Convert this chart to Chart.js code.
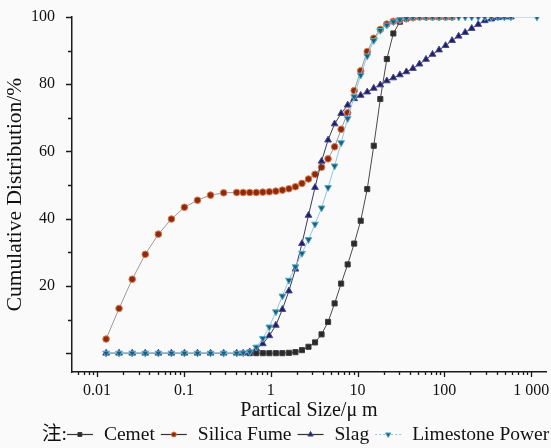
<!DOCTYPE html>
<html>
<head>
<meta charset="utf-8">
<script src="https://cdn.jsdelivr.net/npm/chart.js@4.4.1/dist/chart.umd.min.js"></script>
<style>
  html, body { margin: 0; padding: 0; background: #fafafa; }
  #psd { display: block; }
</style>
</head>
<body>
<canvas id="psd" width="551" height="448"></canvas>
<script>
// particle size grid (um) shared by the four powders
const sizes = [0.0127, 0.0179, 0.0254, 0.0359, 0.0508, 0.0718, 0.1014, 0.1435, 0.2028, 0.2871, 0.4055,
  0.482, 0.573, 0.682, 0.811, 0.964, 1.146, 1.363, 1.620, 1.927, 2.291,
  2.724, 3.239, 3.851, 4.579, 5.445, 6.474, 7.698, 9.154, 10.88, 12.94,
  15.39, 18.30, 21.76, 25.87, 30.76, 36.58, 43.49, 51.72, 61.50, 73.11,
  86.95, 103.4, 122.9, 146.2, 173.8, 206.7, 245.7, 292.2, 347.4, 413.0,
  491.2, 584.0, 694.4, 825.8, 982.0, 1167];

// cumulative distribution (%), null = no reading at that size
const cemet = [null, null, null, null, null, null, null, null, null, null, null, null,
  0, 0, 0, 0, 0, 0,
  0.1, 0.3, 0.9, 1.9, 3.2, 5.6, 9.3, 14.8, 20.7, 26.4, 32.6, 39.4, 48.8,
  61.7, 75.6, 87.5, 95.1, 98.6, 99.6, 100, 100, 100, 100, 100, 100, 100,
  null, null, null, null, null, null, null, null, null, null, null, null, null];

const silicaFume = [4.2, 13.3, 22.0, 29.4, 35.4, 39.9, 43.4, 45.5, 47.0, 47.7, 47.8,
  47.8, 47.8, 47.8, 47.9, 48.0, 48.2, 48.5, 48.9, 49.5, 50.5,
  51.8, 53.2, 55.3, 57.8, 61.4, 66.6, 71.5, 78.1, 84.0, 89.7, 93.7, 96.3, 97.9, 98.7, 99.1,
  99.5, 99.8, 100, 100, 100, 100, 100, 100,
  null, null, null, null, null, null, null, null, null, null, null, null, null];

const slag = [0, 0, 0, 0, 0, 0, 0, 0, 0, 0, 0, 0,
  0.4, 1.3, 2.8, 5.2, 8.3, 13.0, 18.5, 25.0, 32.6,
  41.0, 49.3, 57.1, 63.4, 68.2, 71.3, 73.8, 75.7, 76.7, 77.7,
  78.8, 79.8, 81.0, 81.9, 82.8, 83.7, 84.7, 86.0, 87.4, 88.9,
  90.2, 91.5, 93.0, 94.3, 95.4, 96.6, 97.8, 98.9, 99.4, 99.8,
  100, 100, null, null, null, null];

const limestone = [0, 0, 0, 0, 0, 0, 0, 0, 0, 0, 0,
  0.1, 0.4, 1.8, 4.4, 7.8, 12.3, 17.0, 21.7, 25.7, 29.7,
  33.8, 38.4, 43.2, 49.3, 55.7, 62.6, 69.8, 76.3, 82.7, 88.4,
  93.0, 96.0, 97.6, 98.6, 99.2, 99.6, 99.9, 100, 100, 100,
  100, 100, 100, 100, 100, 100, 100, 100, 100, 100, 100, 100,
  null, null, null, 100];

const seriesNames = ["Cemet", "Silica Fume", "Slag", "Limestone Power"];
const seriesValues = [cemet, silicaFume, slag, limestone];

const xTickValues = [0.01, 0.1, 1, 10, 100, 1000];
const xTickLabels = ["0.01", "0.1", "1", "10", "100", "1 000"];
const yTickValues = [0, 20, 40, 60, 80, 100];
const yTickLabels = ["", "20", "40", "60", "80", "100"];

const SERIF = "'Liberation Serif', 'Times New Roman', 'Noto Sans CJK SC', serif";

const looks = [
  { line: "#4a4a4a", fill: "#2a2a2a", edge: "#3c3c3c", shape: "rect", r: 3.6, rot: 0, dash: [] },
  { line: "#9a9a9a", fill: "#8a2a10", edge: "#e07845", shape: "circle", r: 3.3, rot: 0, dash: [] },
  { line: "#3a3a58", fill: "#1f1f5c", edge: "#4a4a95", shape: "triangle", r: 3.9, rot: 0, dash: [] },
  { line: "#8ec8e0", fill: "#1d5e78", edge: "#5aaccc", shape: "triangle", r: 3.9, rot: 180, dash: [2, 2] }
];

function toPoints(values) {
  return sizes.map((x, i) => ({ x, y: values[i] })).filter(p => p.y !== null);
}

const datasets = seriesValues.map((vals, i) => ({
  label: seriesNames[i],
  data: toPoints(vals),
  showLine: true,
  borderColor: looks[i].line,
  borderWidth: 1,
  backgroundColor: looks[i].fill,
  pointBackgroundColor: looks[i].fill,
  pointBorderColor: looks[i].edge,
  pointBorderWidth: 1,
  pointStyle: looks[i].shape,
  pointRotation: looks[i].rot,
  pointRadius: looks[i].r,
  tension: 0,
  order: 3 - i
}));

// major / minor tick marks drawn outside the axes
const axisTicks = {
  id: "axisTicks",
  afterDraw(chart) {
    const { ctx, chartArea, scales } = chart;
    ctx.save();
    ctx.strokeStyle = "#1a1a1a";
    ctx.lineWidth = 1.3;
    ctx.beginPath();
    for (let v = 0; v <= 100; v += 10) {
      const y = Math.round(scales.y.getPixelForValue(v)) + 0.5;
      const len = v % 20 === 0 ? 6 : 4;
      ctx.moveTo(chartArea.left - len, y);
      ctx.lineTo(chartArea.left, y);
    }
    for (let d = -3; d <= 3; d++) {
      for (let m = 1; m <= 9; m++) {
        const v = m * Math.pow(10, d);
        if (v < scales.x.min || v > scales.x.max) continue;
        const x = Math.round(scales.x.getPixelForValue(v)) + 0.5;
        const len = m === 1 ? 5 : 3;
        ctx.moveTo(x, chartArea.bottom);
        ctx.lineTo(x, chartArea.bottom + len);
      }
    }
    ctx.stroke();
    ctx.restore();
  }
};

// "注:" legend line under the axis title
const noteLegend = {
  id: "noteLegend",
  afterDraw(chart) {
    const { ctx } = chart;
    const y = 435;
    ctx.save();
    ctx.font = "19.5px " + SERIF;
    ctx.fillStyle = "#111";
    ctx.textBaseline = "middle";
    let x = 42;
    ctx.fillText("注:", x, y);
    x += ctx.measureText("注:").width;
    seriesNames.forEach((name, i) => {
      const lk = looks[i];
      x += i === 0 ? 0 : 6;
      ctx.strokeStyle = i === 3 ? lk.line : "#333";
      ctx.lineWidth = 1.2;
      ctx.setLineDash(lk.dash);
      ctx.beginPath();
      ctx.moveTo(x, y - 0.5);
      ctx.lineTo(x + 26, y - 0.5);
      ctx.stroke();
      ctx.setLineDash([]);
      ctx.fillStyle = lk.fill;
      ctx.strokeStyle = lk.edge;
      ctx.lineWidth = 1;
      Chart.helpers.drawPoint(ctx, { pointStyle: lk.shape, radius: lk.r - 0.8, rotation: lk.rot, borderWidth: 1 }, x + 13, y - 0.5);
      x += 26 + 11;
      ctx.fillStyle = "#111";
      ctx.fillText(name, x, y);
      x += ctx.measureText(name).width;
    });
    ctx.restore();
  }
};

new Chart(document.getElementById("psd"), {
  type: "scatter",
  data: { datasets },
  options: {
    responsive: false,
    animation: false,
    devicePixelRatio: 1,
    layout: { padding: { top: 17, right: 1, left: 0, bottom: 0 } },
    plugins: { legend: { display: false }, tooltip: { enabled: false } },
    scales: {
      x: {
        type: "logarithmic",
        position: "bottom",
        min: 0.00514,
        max: 1483,
        grid: { display: false },
        border: { display: true, color: "#1a1a1a", width: 1.5 },
        ticks: {
          font: { family: SERIF, size: 16 },
          color: "#111",
          padding: 1,
          maxRotation: 0,
          autoSkip: false,
          callback: (v, i) => xTickLabels[i]
        },
        afterBuildTicks: axis => { axis.ticks = xTickValues.map(v => ({ value: v })); },
        afterFit: s => { s.height = 76; s.paddingLeft = 0; s.paddingRight = 0; },
        title: {
          display: true,
          text: "Partical Size/μ m",
          font: { family: SERIF, size: 20 },
          color: "#111",
          padding: { top: 0, bottom: 25 }
        }
      },
      y: {
        type: "linear",
        position: "left",
        min: -5.6,
        max: 100,
        grid: { display: false },
        border: { display: true, color: "#1a1a1a", width: 1.5 },
        ticks: {
          font: { family: SERIF, size: 16 },
          color: "#111",
          padding: 9,
          callback: (v, i) => yTickLabels[i]
        },
        afterBuildTicks: axis => { axis.ticks = yTickValues.map(v => ({ value: v })); },
        afterFit: s => { s.width = 72; s.paddingTop = 0; s.paddingBottom = 0; },
        title: {
          display: true,
          text: "Cumulative Distribution/%",
          font: { family: SERIF, size: 21.5 },
          color: "#111",
          padding: { top: 2, bottom: 0 }
        }
      }
    }
  },
  plugins: [axisTicks, noteLegend]
});
</script>
</body>
</html>
